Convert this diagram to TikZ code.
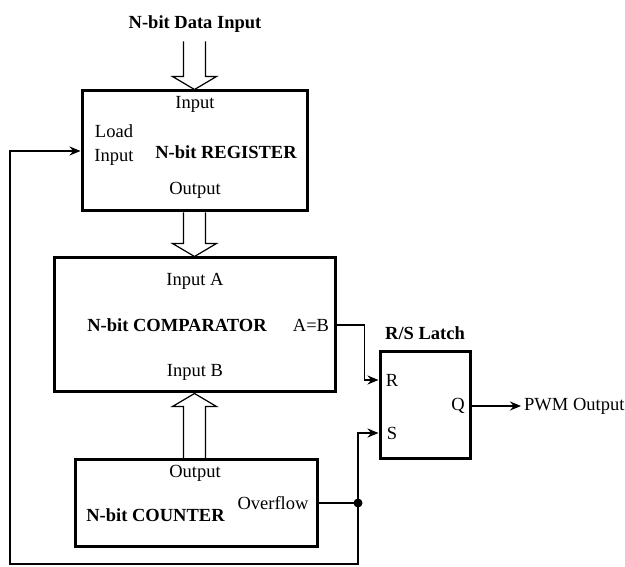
\documentclass[tikz,border=0pt]{standalone}
\usepackage{fontspec}
\setmainfont{Liberation Serif}
\usetikzlibrary{calc,arrows.meta}
\begin{document}
\begin{tikzpicture}[x=1pt,y=-1pt,
  blk/.style={draw,line width=3pt,inner sep=0pt},
  lbl/.style={inner sep=0pt,font=\fontsize{18.5}{20}\selectfont},
  blbl/.style={inner sep=0pt,font=\fontsize{18.5}{20}\selectfont\bfseries},
  wire/.style={line width=1.6pt},
  tip/.style={-{Stealth[length=11pt,width=9pt]}},
  bus/.style={line width=1.2pt,line join=miter}]
\useasboundingbox (0,0) rectangle (625,567);
% blocks
\node[blk,minimum width=225pt,minimum height=120pt] (reg) at (194.5,151) {};
\node[blk,minimum width=281pt,minimum height=134pt] (cmp) at (194.5,325) {};
\node[blk,minimum width=242pt,minimum height=87pt] (cnt) at (196,502.5) {};
\node[blk,minimum width=90pt,minimum height=106pt] (lat) at (425,405) {};
% texts
\node[blbl] (title) at (195,24) {N-bit Data Input};
\node[lbl] (rin) at (195,104) {Input};
\node[lbl] (load) at (114,131) {Load};
\node[lbl] (loadin) at (114,157) {Input};
\node[blbl] (regname) at (226,152) {N-bit REGISTER};
\node[lbl] (rout) at (195,190) {Output};
\node[lbl] (ina) at (195,281) {Input A};
\node[blbl] (cmpname) at (177,325) {N-bit COMPARATOR};
\node[lbl] (aeqb) at (311,325) {A=B};
\node[lbl] (inb) at (195,372) {Input B};
\node[lbl] (cout) at (195,473) {Output};
\node[lbl] (ovf) at (273,503) {Overflow};
\node[blbl] (cntname) at (155.5,515) {N-bit COUNTER};
\node[blbl] (latname) at (425,333) {R/S Latch};
\node[lbl] (rlab) at (392,380) {R};
\node[lbl] (slab) at (392,433) {S};
\node[lbl] (qlab) at (458,406) {Q};
\node[lbl,anchor=west] (pwm) at (524,406) {PWM Output};
% bus arrows
\draw[bus] ($(reg.north)+(-11,-48)$) -- ($(reg.north)+(-11,-13)$) -- ($(reg.north)+(-22,-13)$) -- (reg.north) -- ($(reg.north)+(22,-13)$) -- ($(reg.north)+(11,-13)$) -- ($(reg.north)+(11,-48)$);
\draw[bus] ($(reg.south)+(-11,0)$) -- ($(cmp.north)+(-11,-13)$) -- ($(cmp.north)+(-22,-13)$) -- (cmp.north) -- ($(cmp.north)+(22,-13)$) -- ($(cmp.north)+(11,-13)$) -- ($(reg.south)+(11,0)$);
\draw[bus] ($(cmp.south)+(-11,67)$) -- ($(cmp.south)+(-11,13)$) -- ($(cmp.south)+(-22,13)$) -- (cmp.south) -- ($(cmp.south)+(22,13)$) -- ($(cmp.south)+(11,13)$) -- ($(cmp.south)+(11,67)$);
% wires
\coordinate (jn) at (358,503);
\coordinate (fb) at (10,564);
\draw[wire,tip] (cmp.east) -- ++(28,0) |- (lat.west |- rlab);
\draw[wire] (cnt.east |- ovf) -- (jn);
\fill (jn) circle (4.5pt);
\draw[wire,tip] (jn) |- (lat.west |- slab);
\draw[wire,tip] (jn) |- (fb) |- (reg.west);
\draw[wire,tip] (lat.east |- qlab) -- ($(pwm.west)+(-3,0)$);
\end{tikzpicture}
\end{document}
